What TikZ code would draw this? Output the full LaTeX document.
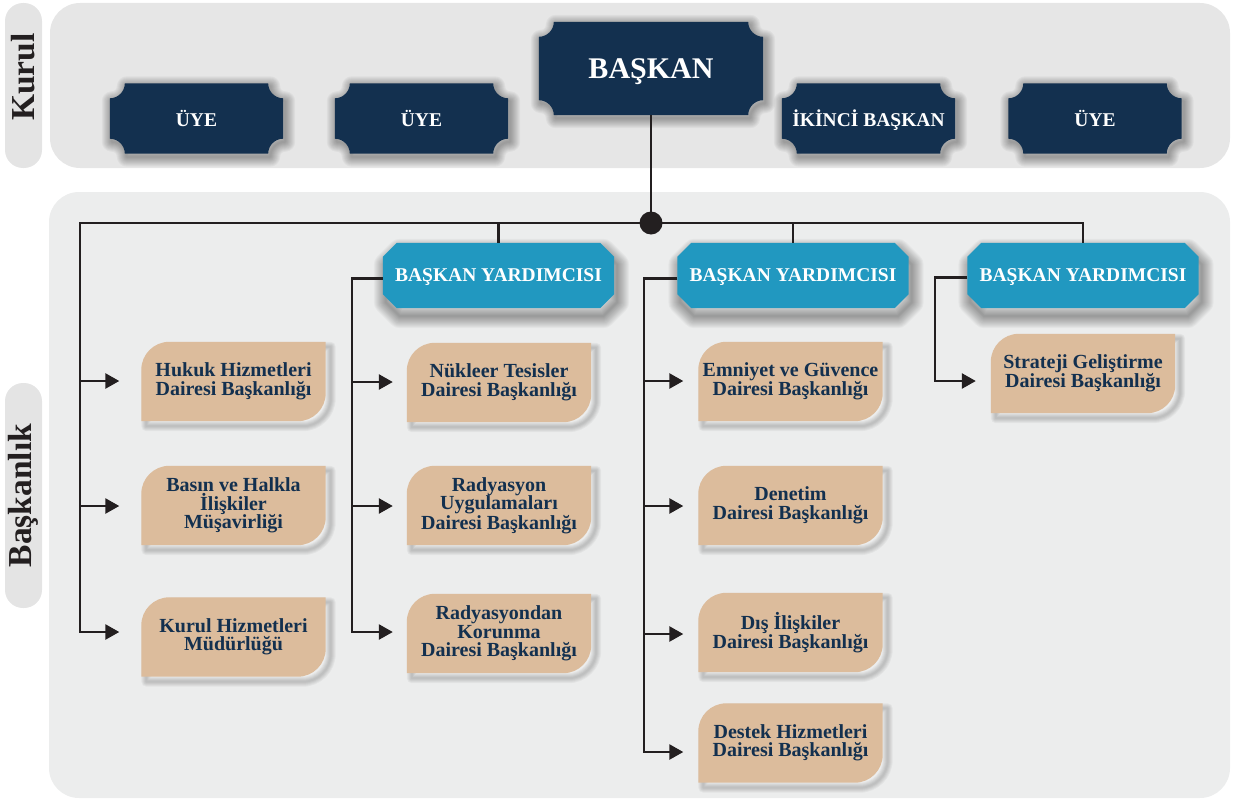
\documentclass[tikz,border=0pt]{standalone}
\usepackage{fontspec}
\setmainfont{Liberation Serif}
\usetikzlibrary{calc,arrows.meta}
\definecolor{navy}{HTML}{13304F}
\definecolor{byblue}{HTML}{2198C0}
\definecolor{tanbox}{HTML}{DCBC9C}
\definecolor{panelA}{HTML}{E6E6E6}
\definecolor{panelB}{HTML}{ECEDED}
\definecolor{pillc}{HTML}{E4E4E4}
\definecolor{linec}{HTML}{231F20}
\pgfdeclarelayer{panel}
\pgfdeclarelayer{shape}
\pgfsetlayers{panel,shape,main}
% shape outlines
\newcommand\notchpath[2]{($(#1.north west)+(#2pt,0)$) -- ($(#1.north east)+(-#2pt,0)$)
   arc[start angle=180,end angle=270,radius=#2pt] -- ($(#1.south east)+(0,#2pt)$)
   arc[start angle=90,end angle=180,radius=#2pt] -- ($(#1.south west)+(#2pt,0)$)
   arc[start angle=0,end angle=90,radius=#2pt] -- ($(#1.north west)+(0,-#2pt)$)
   arc[start angle=270,end angle=360,radius=#2pt] -- cycle}
\newcommand\octpath[2]{($(#1.north west)+(#2pt,0)$) -- ($(#1.north east)+(-#2pt,0)$)
   -- ($(#1.north east)+(0,-#2pt)$) -- ($(#1.south east)+(0,#2pt)$)
   -- ($(#1.south east)+(-#2pt,0)$) -- ($(#1.south west)+(#2pt,0)$)
   -- ($(#1.south west)+(0,#2pt)$) -- ($(#1.north west)+(0,-#2pt)$) -- cycle}
\newcommand\leafpath[1]{(#1.south west) -- ($(#1.north west)+(0,-28pt)$)
   arc[start angle=180,end angle=90,radius=28pt] -- (#1.north east)
   -- ($(#1.south east)+(0,28pt)$) arc[start angle=0,end angle=-90,radius=28pt] -- cycle}
% soft shadow: #1 xshift, #2 yshift, #3 steps, #4 opacity, #5 path
\newcommand\softshadow[5]{%
 \begin{scope}[transform canvas={shift={(#1pt,#2pt)}}]
 \foreach \k in {1,...,#3}{\draw[black,opacity=#4,line width=2*\k pt,line join=round] #5;}
 \end{scope}}
\newcommand\notchbg[2]{%
 \begin{pgfonlayer}{shape}
 \softshadow{2}{-3}{10}{0.035}{\notchpath{#1}{#2}}
 \fill[navy] \notchpath{#1}{#2};
 \end{pgfonlayer}}
\newcommand\octbg[2]{%
 \begin{pgfonlayer}{shape}
 \softshadow{3}{-8}{12}{0.03}{\octpath{#1}{#2}}
 \fill[byblue] \octpath{#1}{#2};
 \end{pgfonlayer}}
\newcommand\leafbg[1]{%
 \begin{pgfonlayer}{shape}
 \softshadow{5}{-5}{5}{0.04}{\leafpath{#1}}
 \fill[tanbox] \leafpath{#1};
 \end{pgfonlayer}}
\begin{document}
\begin{tikzpicture}[x=1pt,y=1pt,
  conn/.style={draw=linec,line width=2.6pt},
  arr/.style={conn,-{Triangle[length=14pt,width=15pt]}},
  navytext/.style={text=white,inner sep=0pt,align=center,text depth=0pt,font=\bfseries\fontsize{19.5}{19.5}\selectfont,minimum width=173pt,minimum height=70pt},
  bytext/.style={text=white,inner sep=0pt,align=center,text depth=0pt,font=\bfseries\fontsize{19.5}{19.5}\selectfont,minimum width=231pt,minimum height=65pt},
  leaftext/.style={text=navy,inner sep=0pt,align=center,font=\bfseries\fontsize{20}{18.5}\selectfont,minimum width=184pt,minimum height=79pt},
  pill/.style={fill=pillc,rounded corners=18pt,inner sep=0pt,text=linec,font=\bfseries\fontsize{33.5}{33.5}\selectfont,rotate=90}
]
\useasboundingbox (0,0) rectangle (1233,-800);
% panels
\begin{pgfonlayer}{panel}
\fill[panelA,rounded corners=30pt] (50,-3) rectangle (1230,-168);
\fill[panelB,rounded corners=30pt] (49,-192) rectangle (1230,-798);
\end{pgfonlayer}
\node[pill,minimum width=165pt,minimum height=37pt] (kurullbl) at (23.5,-85.5) {\hspace*{17pt}Kurul};
\node[pill,minimum width=225pt,minimum height=37pt] (baskanliklbl) at (23.5,-495.5) {Başkanlık};
% top nodes
\node[navytext,minimum width=224pt,minimum height=93pt,font=\bfseries\fontsize{30}{30}\selectfont] (baskan) at (651,-68.5) {BAŞKAN};
\node[navytext] (uye1) at (196.5,-118.5) {ÜYE};
\node[navytext] (uye2) at (421.5,-118.5) {ÜYE};
\node[navytext] (ikinci) at (868.5,-118.5) {İKİNCİ BAŞKAN};
\node[navytext] (uye4) at (1095,-118.5) {ÜYE};
\notchbg{uye1}{15}
\notchbg{uye2}{15}
\notchbg{ikinci}{15}
\notchbg{uye4}{15}
\notchbg{baskan}{15}
% vice presidents
\node[bytext] (by1) at (498.5,-275.5) {BAŞKAN YARDIMCISI};
\node[bytext] (by2) at (793,-275.5) {BAŞKAN YARDIMCISI};
\node[bytext] (by3) at (1083,-275.5) {BAŞKAN YARDIMCISI};
\octbg{by1}{14}
\octbg{by2}{14}
\octbg{by3}{14}
% leaves
\node[leaftext] (hukuk) at (233.5,-381.5) {Hukuk Hizmetleri\\Dairesi Başkanlığı};
\node[leaftext] (basin) at (233.5,-505.5) {Basın ve Halkla\\İlişkiler\\Müşavirliği};
\node[leaftext] (kurulhiz) at (233.5,-637) {Kurul Hizmetleri\\Müdürlüğü};
\node[leaftext] (nukleer) at (499,-382.5) {Nükleer Tesisler\\Dairesi Başkanlığı};
\node[leaftext] (raduyg) at (499,-505.5) {Radyasyon\\Uygulamaları\\Dairesi Başkanlığı};
\node[leaftext] (radkor) at (499,-633.5) {Radyasyondan\\Korunma\\Dairesi Başkanlığı};
\node[leaftext] (emniyet) at (790.5,-381.5) {Emniyet ve Güvence\\Dairesi Başkanlığı};
\node[leaftext] (denetim) at (790.5,-505.5) {Denetim\\Dairesi Başkanlığı};
\node[leaftext] (dis) at (790.5,-632.5) {Dış İlişkiler\\Dairesi Başkanlığı};
\node[leaftext] (destek) at (790.5,-743) {Destek Hizmetleri\\Dairesi Başkanlığı};
\node[leaftext] (strateji) at (1083,-373.5) {Strateji Geliştirme\\Dairesi Başkanlığı};
\foreach \n in {hukuk,basin,kurulhiz,nukleer,raduyg,radkor,emniyet,denetim,dis,destek,strateji}{\leafbg{\n}}
% connector coordinates
\coordinate (hub) at (651,-223);
\coordinate (c1a) at (80,-381);
\coordinate (c1b) at (80,-506);
\coordinate (c1c) at (80,-632);
\coordinate (c2a) at (352,-382);
\coordinate (c2b) at (352,-506);
\coordinate (c2c) at (352,-632);
\coordinate (c3a) at (644,-381);
\coordinate (c3b) at (644,-506);
\coordinate (c3c) at (644,-634);
\coordinate (c3d) at (644,-752);
\coordinate (c4a) at (935,-381);
% connectors
\draw[conn] (baskan.south) -- (hub);
\draw[conn] (hub) -| (by1.north);
\draw[conn] (hub) -| (by2.north);
\draw[conn] (hub) -| (by3.north);
\draw[arr,shorten >=22pt] (hub) -| (c1c) -- (c1c -| kurulhiz.west);
\draw[arr,shorten >=22pt] (c1a) -- (c1a -| hukuk.west);
\draw[arr,shorten >=22pt] (c1b) -- (c1b -| basin.west);
\draw[arr,shorten >=14pt] ([yshift=-3pt]by1.west) -| (c2c) -- (c2c -| radkor.west);
\draw[arr,shorten >=14pt] (c2a) -- (c2a -| nukleer.west);
\draw[arr,shorten >=14pt] (c2b) -- (c2b -| raduyg.west);
\draw[arr,shorten >=15pt] ([yshift=-3pt]by2.west) -| (c3d) -- (c3d -| destek.west);
\draw[arr,shorten >=15pt] (c3a) -- (c3a -| emniyet.west);
\draw[arr,shorten >=15pt] (c3b) -- (c3b -| denetim.west);
\draw[arr,shorten >=15pt] (c3c) -- (c3c -| dis.west);
\draw[arr,shorten >=15pt] ([yshift=-2pt]by3.west) -| (c4a) -- (c4a -| strateji.west);
\fill[linec] (hub) circle (11.5pt);
\end{tikzpicture}
\end{document}
